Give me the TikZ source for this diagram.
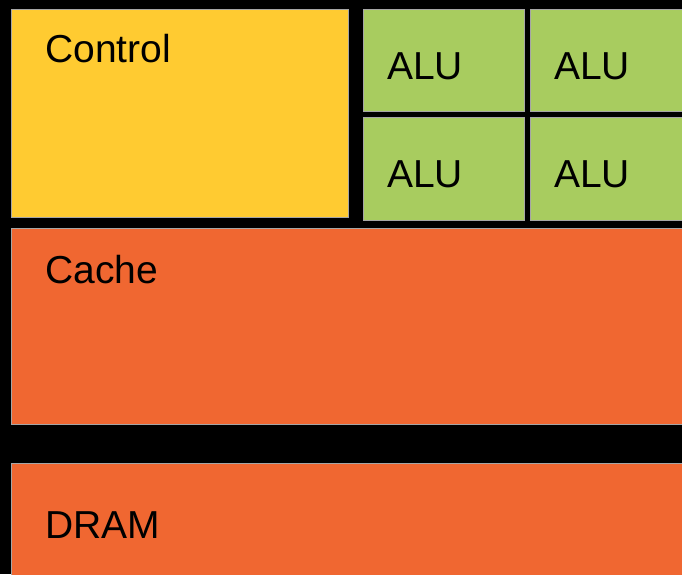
\documentclass[tikz,border=0pt]{standalone}
\usepackage{fontspec}
\setmainfont{Liberation Sans}
\usepackage{tikz, xcolor}
\usetikzlibrary{positioning}
\definecolor{controlyellow}{HTML}{FFCB31}
\definecolor{alugreen}{HTML}{A8CC5F}
\definecolor{memorange}{HTML}{F06731}
\definecolor{boxedge}{HTML}{A6A6A6}
\newcommand{\bigtext}{\fontsize{39}{46}\selectfont}

\begin{document}
\begin{tikzpicture}[x=1pt,y=-1pt]
\tikzset{BOX/.style={draw=boxedge,line width=1.3pt,rectangle,anchor=north west,inner sep=0pt}}
\tikzset{CONTROL/.style={BOX,fill=controlyellow,minimum width=337pt,minimum height=208pt}}
\tikzset{ALU/.style={BOX,fill=alugreen,minimum width=161pt,minimum height=102pt}}
\tikzset{MEMORY/.style={BOX,fill=memorange,minimum width=700pt}}
\tikzset{LABEL/.style={anchor=base west,inner sep=0pt,font=\bigtext}}

\fill[black] (0,0) rectangle (682,574);
\useasboundingbox (0,0) rectangle (682,574);
\clip (0,0) rectangle (682,574);

\node[CONTROL] (control) at (10.5,8.5) {};
\node[ALU] (alu 1) at (362.5,8.5) {};
\node[ALU] (alu 2) at (529.5,8.5) {};
\node[ALU,minimum height=103pt] (alu 3) at (362.5,117) {};
\node[ALU,minimum height=103pt] (alu 4) at (529.5,117) {};
\node[MEMORY,minimum height=196pt] (cache) at (10.5,227.5) {};
\node[MEMORY,minimum height=130pt] (dram) at (10.5,462.5) {};

\node[LABEL] (control text) at (45,62) {Control};
\node[LABEL] (alu 1 text) at (387,79) {ALU};
\node[LABEL] (alu 2 text) at (554,79) {ALU};
\node[LABEL] (alu 3 text) at (387,187) {ALU};
\node[LABEL] (alu 4 text) at (554,187) {ALU};
\node[LABEL] (cache text) at (45,283) {Cache};
\node[LABEL] (dram text) at (45,538) {DRAM};

\end{tikzpicture}
\end{document}
